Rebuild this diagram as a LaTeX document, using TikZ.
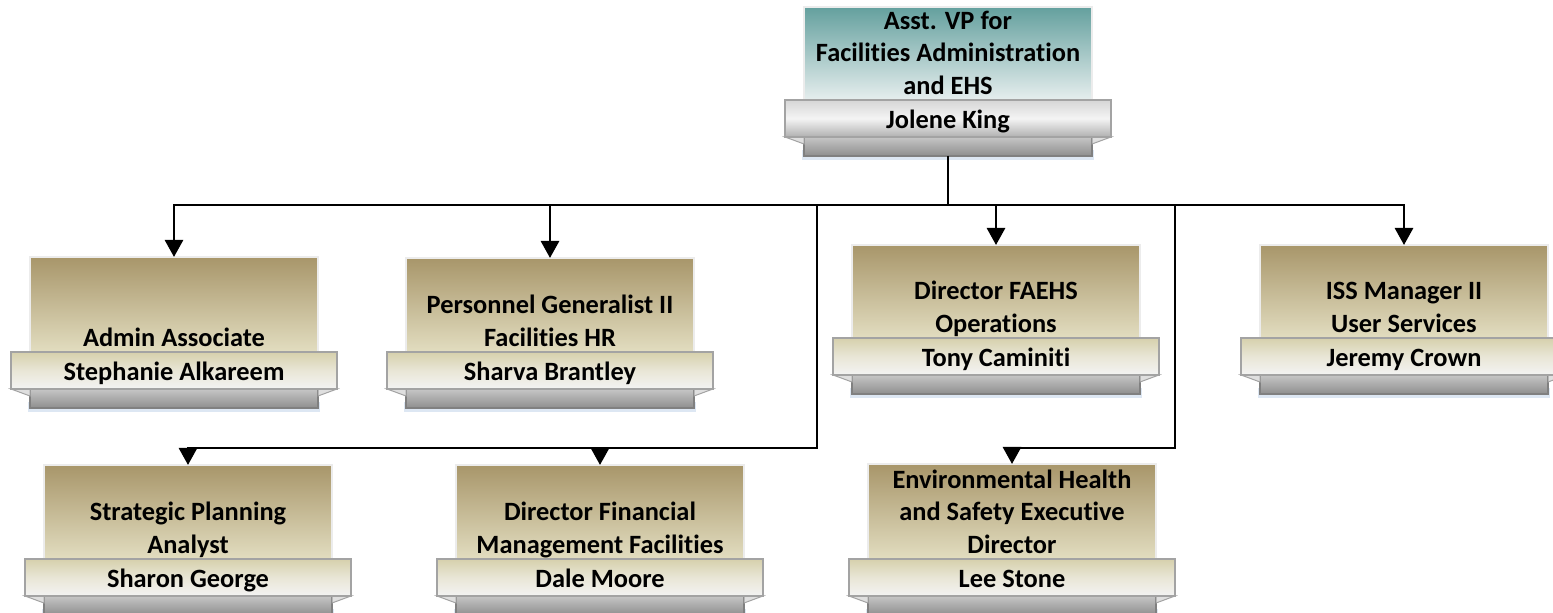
\documentclass[tikz,border=0pt]{standalone}
\usepackage{fontspec}
\setmainfont{Carlito}[Ligatures=NoCommon]
\usetikzlibrary{arrows.meta,fit}
\definecolor{tealtop}{HTML}{64A09E}
\definecolor{tealbot}{HTML}{E6EEEE}
\definecolor{tantop}{HTML}{A8966A}
\definecolor{tanbot}{HTML}{E2DDC0}
\definecolor{ribtantop}{HTML}{D6D0AC}
\definecolor{ribtanmid}{HTML}{E9E6D6}
\definecolor{ribbot}{HTML}{F3F3F3}
\definecolor{ribgraytop}{HTML}{D6D6D6}
\definecolor{ribgraymid}{HTML}{F4F4F4}
\definecolor{ribgraybot}{HTML}{B0B0B0}
\definecolor{striptop}{HTML}{C6C6C6}
\definecolor{stripbot}{HTML}{8E8E8E}
\definecolor{edgegray}{HTML}{A3A3A3}
\definecolor{glow}{HTML}{DDE7F3}
\tikzset{
  x=0.5pt, y=-0.5pt,
  boxbase/.style={inner sep=0pt, outer sep=0pt, draw=white!85!gray, line width=0.6pt},
  ribbonbox/.style={inner sep=0pt, outer sep=0pt, draw=edgegray, line width=0.7pt},
  stripbox/.style={inner sep=0pt, outer sep=0pt, draw=stripbot!90!black, line width=0.6pt,
    top color=striptop, bottom color=stripbot},
  foldtri/.style={fill=white!75!gray, draw=edgegray, line width=0.5pt},
  glowbox/.style={fill=glow},
  titletext/.style={font=\fontsize{13.2}{16.2}\selectfont\bfseries, align=center, inner sep=0pt},
  nametext/.style={font=\fontsize{13.2}{16.2}\selectfont\bfseries, inner sep=0pt},
  conn/.style={line width=1.4pt, black},
  arr/.style={conn, -{Triangle[width=9pt,length=8.5pt]}},
  tanrib/.style={top color=ribtantop, bottom color=ribbot, middle color=ribtanmid},
  grayrib/.style={top color=ribgraytop, bottom color=ribgraybot, middle color=ribgraymid},
}
% #1 name, #2 cx, #3 top, #4 ribbon top, #5 title, #6 person,
% #7 box top colour, #8 box bottom colour, #9 ribbon kind
\newcommand\orgbox[9]{%
  \fill[glowbox] (#2-146,#4+50) rectangle (#2+146,#4+60);
  \node[boxbase, fit={(#2-144,#3)(#2+144,#4)}, top color=#7, bottom color=#8] (#1) {};
  \node[stripbox, fit={(#2-144,#4+37)(#2+144,#4+56)}] (#1G) {};
  \fill[foldtri] (#2-163,#4+37) -- (#2-144,#4+37) -- (#2-144,#4+44) -- cycle;
  \fill[foldtri] (#2+163,#4+37) -- (#2+144,#4+37) -- (#2+144,#4+44) -- cycle;
  \node[ribbonbox, fit={(#2-163,#4)(#2+163,#4+37)}, #9] (#1R) {};
  \node[titletext, anchor=south] (#1T) at (#2,#4+4.5) {#5\strut};
  \node[nametext, anchor=base] (#1N) at (#2,#4+28.5) {#6};
}
\begin{document}
\begin{tikzpicture}
\useasboundingbox[fill=white] (0,0) rectangle (1553,613);

\orgbox{vp}{948}{7}{100}{Asst. VP for\\Facilities Administration\\and EHS}{Jolene King}{tealtop}{tealbot}{grayrib}
\orgbox{admin}{174}{257}{352}{Admin Associate}{Stephanie Alkareem}{tantop}{tanbot}{tanrib}
\orgbox{pers}{550}{258}{352}{Personnel Generalist II\\Facilities HR}{Sharva Brantley}{tantop}{tanbot}{tanrib}
\orgbox{faehs}{996}{245}{338}{Director FAEHS\\Operations}{Tony Caminiti}{tantop}{tanbot}{tanrib}
\orgbox{iss}{1404}{245}{338}{ISS Manager II\\User Services}{Jeremy Crown}{tantop}{tanbot}{tanrib}
\orgbox{strat}{188}{465}{559}{Strategic Planning\\Analyst}{Sharon George}{tantop}{tanbot}{tanrib}
\orgbox{dale}{600}{465}{559}{Director Financial\\Management Facilities}{Dale Moore}{tantop}{tanbot}{tanrib}
\orgbox{env}{1012}{464}{559}{Environmental Health\\and Safety Executive\\Director}{Lee Stone}{tantop}{tanbot}{tanrib}

\coordinate (j) at (948,205);
\coordinate (b1) at (817,448);
\coordinate (b2) at (1175,448);
\draw[conn] (vpG.south) -- (j);
\draw[arr] (j) -| (admin.north);
\draw[arr] (j) -| (pers.north);
\draw[arr] (j) -| (faehs.north);
\draw[arr] (j) -| (iss.north);
\draw[arr] (j) -| (b1) -| (strat.north);
\draw[arr] (b1) -| (dale.north);
\draw[arr] (j) -| (b2) -| (env.north);
\end{tikzpicture}
\end{document}
